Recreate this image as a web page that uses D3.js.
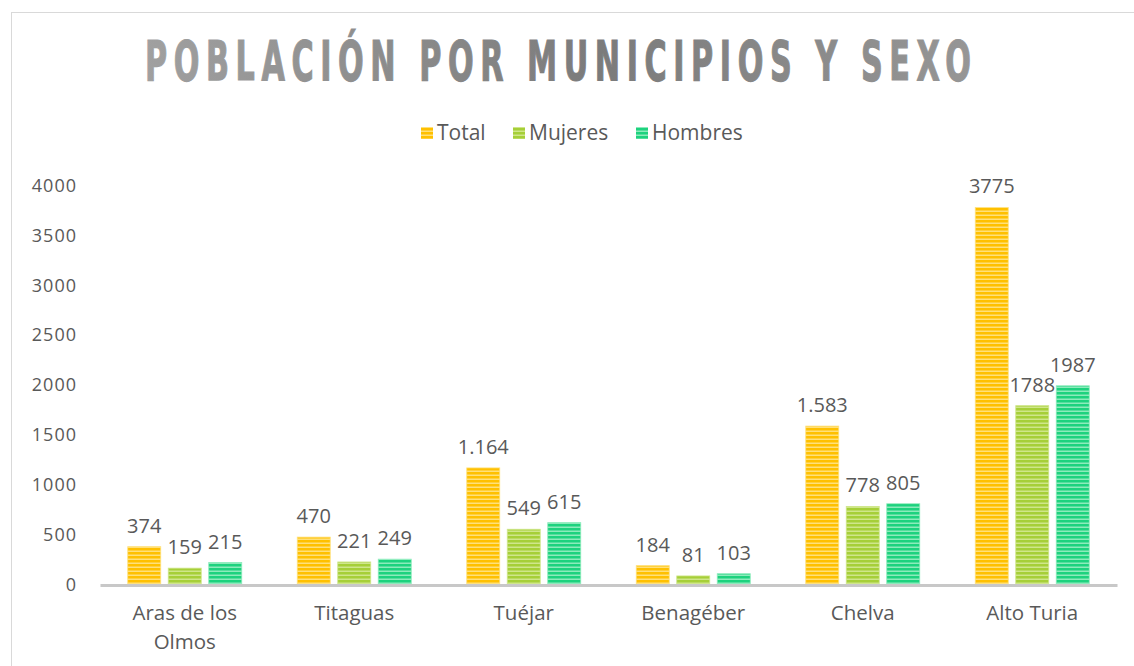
<!DOCTYPE html>
<html>
<head>
<meta charset="utf-8">
<script src="https://cdn.jsdelivr.net/npm/d3@7"></script>
<style>
  html, body { margin: 0; padding: 0; background: #fff; }
  svg { display: block; }
  .lbl { font-family: "Open Sans", Lato, sans-serif; fill: #595959; }
</style>
</head>
<body>
<svg id="chart" width="1134" height="666"></svg>
<script>
const categories = ["Aras de los Olmos", "Titaguas", "Tuéjar", "Benagéber", "Chelva", "Alto Turia"];
const categoryLines = [["Aras de los", "Olmos"], ["Titaguas"], ["Tuéjar"], ["Benagéber"], ["Chelva"], ["Alto Turia"]];
const seriesNames = ["Total", "Mujeres", "Hombres"];
const totalValues   = [374, 470, 1164, 184, 1583, 3775];
const mujeresValues = [159, 221, 549, 81, 778, 1788];
const hombresValues = [215, 249, 615, 103, 805, 1987];
const totalLabels   = ["374", "470", "1.164", "184", "1.583", "3775"];
const mujeresLabels = ["159", "221", "549", "81", "778", "1788"];
const hombresLabels = ["215", "249", "615", "103", "805", "1987"];
const yTicks = [0, 500, 1000, 1500, 2000, 2500, 3000, 3500, 4000];
const titleText = "POBLACIÓN POR MUNICIPIOS Y SEXO";

const seriesValues = [totalValues, mujeresValues, hombresValues];
const seriesLabels = [totalLabels, mujeresLabels, hombresLabels];
const colors = [
  {base: "#FFC000", light: "#FFE07A"},
  {base: "#A6CF38", light: "#CFE68A"},
  {base: "#1DD27E", light: "#8CEBBB"}
];

const svg = d3.select("#chart");
const defs = svg.append("defs");

colors.forEach((c, i) => {
  const p = defs.append("pattern").attr("id", "stripe" + i)
    .attr("patternUnits", "userSpaceOnUse").attr("width", 8).attr("height", 4);
  p.append("rect").attr("width", 8).attr("height", 4).attr("fill", c.base);
  p.append("rect").attr("y", 2.5).attr("width", 8).attr("height", 1.5).attr("fill", c.light);
});

// chart frame
svg.append("rect").attr("x", 11.5).attr("y", 12.5).attr("width", 1200).attr("height", 700)
  .attr("fill", "#fff").attr("stroke", "#d9d9d9").attr("stroke-width", 1);

// title: condensed by horizontal scaling
const LS = 11;
const tg = svg.append("g");
const tt = tg.append("text")
  .attr("x", 0).attr("y", 0)
  .style("font-family", "'DejaVu Sans Condensed', 'DejaVu Sans', sans-serif")
  .style("font-weight", "bold").style("font-size", "56px")
  .style("letter-spacing", LS + "px")
  .text(titleText);
const natural = tt.node().getComputedTextLength() - LS;
const sx = 826 / natural;
tg.attr("transform", `translate(145,80) scale(${sx},1)`);
const grad2 = defs.append("linearGradient").attr("id", "titleGrad2")
  .attr("gradientUnits", "userSpaceOnUse")
  .attr("x1", 0).attr("x2", natural).attr("y1", 0).attr("y2", 0);
grad2.append("stop").attr("offset", "0%").attr("stop-color", "#a0a0a0");
grad2.append("stop").attr("offset", "55%").attr("stop-color", "#7b7b7b");
grad2.append("stop").attr("offset", "100%").attr("stop-color", "#969696");
tt.attr("fill", "url(#titleGrad2)").attr("stroke", "url(#titleGrad2)").attr("stroke-width", 1.2);

// scales
const x0 = d3.scaleBand().domain(categories).range([100, 1117]).paddingInner(0).paddingOuter(0);
const y = d3.scaleLinear().domain([0, 4000]).range([584, 185]);
const bw = 33, gap = 7.5;
const xs = d3.scaleOrdinal().domain(seriesNames).range(seriesNames.map((s, i) => (i - 1) * (bw + gap) - bw / 2));

// y axis labels
const yAxis = d3.axisLeft(y).tickValues(yTicks).tickSize(0).tickPadding(0).tickFormat(d3.format("d"));
const gy = svg.append("g").attr("transform", "translate(77,0)").call(yAxis);
gy.select(".domain").remove();
gy.selectAll("text").attr("class", "lbl").style("font-size", "18px").style("letter-spacing", "1px")
  .attr("fill", "#595959").attr("dy", "0.35em");

// bars
seriesNames.forEach((s, si) => {
  const g = svg.append("g");
  g.selectAll("rect").data(categories).join("rect")
    .attr("x", (c) => x0(c) + x0.bandwidth() / 2 + xs(s))
    .attr("y", (c, i) => y(seriesValues[si][i]))
    .attr("width", bw)
    .attr("height", (c, i) => y(0) - y(seriesValues[si][i]))
    .attr("fill", "url(#stripe" + si + ")")
    .attr("stroke", colors[si].light).attr("stroke-width", 0.8);
  g.selectAll("text").data(categories).join("text")
    .attr("class", "lbl")
    .attr("x", (c) => x0(c) + x0.bandwidth() / 2 + xs(s) + bw / 2)
    .attr("y", (c, i) => y(seriesValues[si][i]) - 14)
    .attr("text-anchor", "middle")
    .style("font-size", "20px")
    .text((c, i) => seriesLabels[si][i]);
});

// x axis line
const xAxis = d3.axisBottom(x0).tickSize(0).tickFormat("");
const gx = svg.append("g").attr("transform", "translate(0,585)").call(xAxis);
gx.select(".domain").attr("stroke", "#c8c8c8").attr("stroke-width", 3);

// category labels
categories.forEach((c, i) => {
  const t = svg.append("text").attr("class", "lbl")
    .attr("x", x0(c) + x0.bandwidth() / 2).attr("y", 620)
    .attr("text-anchor", "middle").style("font-size", "20.5px");
  categoryLines[i].forEach((ln, li) => {
    t.append("tspan").attr("x", x0(c) + x0.bandwidth() / 2).attr("dy", li === 0 ? 0 : 29).text(ln);
  });
});

// legend
const legendX = [421, 513, 636];
seriesNames.forEach((s, i) => {
  svg.append("rect").attr("x", legendX[i]).attr("y", 127).attr("width", 12).attr("height", 12)
    .attr("fill", "url(#stripe" + i + ")");
  svg.append("text").attr("class", "lbl").attr("x", legendX[i] + 16).attr("y", 140)
    .style("font-size", "21px").text(s);
});
</script>
</body>
</html>
